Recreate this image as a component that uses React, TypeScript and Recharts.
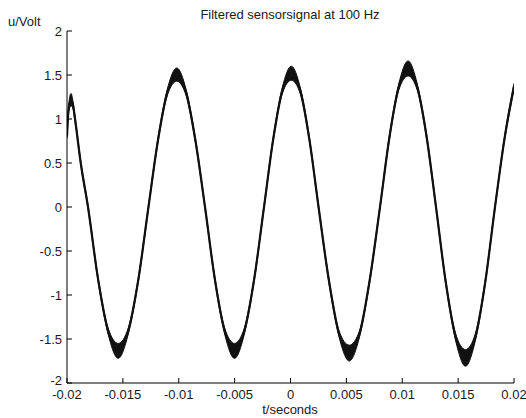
import React from 'react';
import { ComposedChart, Line, Area, XAxis, YAxis } from 'recharts';

// time (s)
const T = [
  -0.02, -0.01985, -0.01964, -0.01945, -0.01928, -0.01877, -0.01812,
  -0.01722, -0.01632, -0.01542, -0.01452, -0.01361, -0.01271,
  -0.01187, -0.01103, -0.01018, -0.00934, -0.0085, -0.00765,
  -0.00677, -0.00589, -0.00501, -0.00413, -0.00325, -0.00237,
  -0.00156, -0.00074, 0.00007, 0.00088, 0.0017, 0.00251,
  0.00343, 0.00434, 0.00526, 0.00618, 0.00709, 0.00801,
  0.00885, 0.00968, 0.01052, 0.01135, 0.01219, 0.01302,
  0.0139, 0.01478, 0.01566, 0.01654, 0.01742, 0.0183,
  0.01918, 0.02,
];

// filtered signal centre (V)
const U = [
  0.8, 1.12, 1.22, 1.15, 1.0, 0.5, 0.0,
  -0.82, -1.41, -1.635, -1.41, -0.82, 0.0,
  0.75, 1.3, 1.505, 1.3, 0.75, 0.0,
  -0.82, -1.41, -1.635, -1.41, -0.82, 0.0,
  0.76, 1.32, 1.52, 1.32, 0.76, 0.0,
  -0.83, -1.44, -1.66, -1.44, -0.83, 0.0,
  0.79, 1.36, 1.575, 1.36, 0.79, 0.0,
  -0.86, -1.48, -1.715, -1.48, -0.86, 0.0,
  0.8, 1.37,
];

// noise half-width (V)
const NOISE = [
  0.02, 0.04, 0.07, 0.04, 0.03, 0.02, 0.02,
  0.025, 0.035, 0.085, 0.035, 0.025, 0.02,
  0.025, 0.035, 0.075, 0.035, 0.025, 0.02,
  0.025, 0.035, 0.085, 0.035, 0.025, 0.02,
  0.025, 0.035, 0.08, 0.035, 0.025, 0.02,
  0.025, 0.035, 0.09, 0.035, 0.025, 0.02,
  0.025, 0.035, 0.085, 0.035, 0.025, 0.02,
  0.025, 0.04, 0.095, 0.04, 0.025, 0.02,
  0.025, 0.035,
];

const X_TICKS = [-0.02, -0.015, -0.01, -0.005, 0, 0.005, 0.01, 0.015, 0.02];
const Y_TICKS = [-2, -1.5, -1, -0.5, 0, 0.5, 1, 1.5, 2];

const TITLE = 'Filtered sensorsignal at 100 Hz';
const X_LABEL = 't/seconds';
const Y_LABEL = 'u/Volt';

const data = T.map((t, i) => ({
  t,
  u: U[i],
  band: [U[i] - NOISE[i], U[i] + NOISE[i]],
}));

const FONT = '"Liberation Sans", Arial, Helvetica, sans-serif';
const tickStyle = { fontSize: 13, fill: '#1a1a1a', fontFamily: FONT };
const blank = () => '';

const YTick = (props: any) => {
  const { x, y, payload } = props;
  const v = payload.value;
  const shift = v === -2 ? -3 : 0;
  return (
    <text
      x={x}
      y={y + shift}
      dy="0.355em"
      textAnchor="end"
      fontSize={13}
      fill="#1a1a1a"
      fontFamily={FONT}
    >
      {String(v)}
    </text>
  );
};

export default function App() {
  return (
    <div style={{ position: 'absolute', left: 0, top: 0, width: 526, height: 418, background: '#fff', fontFamily: FONT }}>
      <ComposedChart
        width={526}
        height={418}
        data={data}
        margin={{ top: 31, right: 12, bottom: 0, left: 0 }}
      >
        <XAxis
          dataKey="t"
          type="number"
          domain={[-0.02, 0.02]}
          ticks={X_TICKS}
          allowDataOverflow
          height={35}
          tickSize={-5}
          tickMargin={12}
          stroke="#000"
          tick={tickStyle}
          interval={0}
        />
        <XAxis
          xAxisId="top"
          dataKey="t"
          type="number"
          orientation="top"
          domain={[-0.02, 0.02]}
          ticks={X_TICKS}
          allowDataOverflow
          height={0}
          tickSize={-5}
          stroke="#000"
          tickFormatter={blank}
          interval={0}
        />
        <YAxis
          type="number"
          domain={[-2, 2]}
          ticks={Y_TICKS}
          allowDataOverflow
          width={67}
          tickSize={-5}
          tickMargin={10}
          stroke="#000"
          tick={<YTick />}
          interval={0}
        />
        <YAxis
          yAxisId="right"
          type="number"
          orientation="right"
          domain={[-2, 2]}
          ticks={Y_TICKS}
          allowDataOverflow
          width={0}
          tickSize={-5}
          stroke="#555"
          tickFormatter={blank}
          interval={0}
        />
        <Area
          dataKey="band"
          type="monotone"
          stroke="#111"
          strokeWidth={1}
          fill="#111"
          fillOpacity={1}
          isAnimationActive={false}
          dot={false}
          activeDot={false}
        />
        <Line
          dataKey="u"
          type="monotone"
          stroke="#111"
          strokeWidth={2.2}
          dot={false}
          activeDot={false}
          isAnimationActive={false}
        />
      </ComposedChart>
      <div style={{ position: 'absolute', left: 140, width: 300, top: 7, lineHeight: '15px', fontSize: 13, textAlign: 'center', color: '#1a1a1a' }}>
        {TITLE}
      </div>
      <div style={{ position: 'absolute', left: 8, top: 14, lineHeight: '15px', fontSize: 13, color: '#1a1a1a' }}>
        {Y_LABEL}
      </div>
      <div style={{ position: 'absolute', left: 190, width: 200, top: 402, lineHeight: '15px', fontSize: 13, textAlign: 'center', color: '#1a1a1a' }}>
        {X_LABEL}
      </div>
    </div>
  );
}
